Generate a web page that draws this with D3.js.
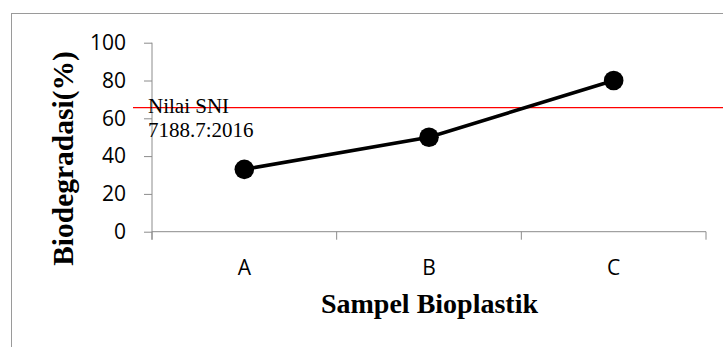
<!DOCTYPE html>
<html>
<head>
<meta charset="utf-8">
<script src="https://cdn.jsdelivr.net/npm/d3@7"></script>
<style>
  html, body { margin: 0; padding: 0; background: #fff; }
  svg { display: block; }
</style>
</head>
<body>
<svg id="chart" width="723" height="347"></svg>
<script>
const categories = ["A", "B", "C"];
const values = [33, 50, 80];
const yTicks = [0, 20, 40, 60, 80, 100];
const sniValue = 65.6;
const sniLabel = ["Nilai SNI", "7188.7:2016"];
const xTitle = "Sampel Bioplastik";
const yTitle = "Biodegradasi(%)";

const svg = d3.select("#chart");
const pLeft = 152, pRight = 706, pTop = 42.7, pBottom = 231.7;

// outer chart border
svg.append("rect")
  .attr("x", 11.5).attr("y", 13.5)
  .attr("width", 760).attr("height", 400)
  .attr("fill", "none").attr("stroke", "#9a9a9a").attr("stroke-width", 1);

const x = d3.scaleBand().domain(categories).range([pLeft, pRight]).padding(0);
const y = d3.scaleLinear().domain([0, 100]).range([pBottom, pTop]);

// Y axis
const yAxis = svg.append("g")
  .attr("transform", `translate(${pLeft},0)`)
  .call(d3.axisLeft(y).tickValues(yTicks).tickSize(8).tickPadding(18));
yAxis.select(".domain").attr("stroke", "#8c8c8c").attr("d", `M-0,${pTop}V${pBottom + 8}`);
yAxis.selectAll(".tick line").attr("stroke", "#8c8c8c");
yAxis.selectAll(".tick text")
  .attr("fill", "#000")
  .style("font-family", "'Open Sans', sans-serif")
  .style("font-size", "21px");

// X axis with ticks at band boundaries
const xAxis = svg.append("g")
  .attr("transform", `translate(0,${pBottom})`);
xAxis.append("path")
  .attr("d", `M${pLeft},0H${pRight}`)
  .attr("stroke", "#8c8c8c").attr("fill", "none");
const bounds = categories.map(c => x(c)).concat([x(categories[categories.length - 1]) + x.bandwidth()]);
xAxis.selectAll("line.bt").data(bounds).enter().append("line")
  .attr("class", "bt")
  .attr("x1", d => d).attr("x2", d => d)
  .attr("y1", 0).attr("y2", 8)
  .attr("stroke", "#8c8c8c");
xAxis.selectAll("text.cat").data(categories).enter().append("text")
  .attr("class", "cat")
  .attr("x", d => x(d) + x.bandwidth() / 2)
  .attr("y", 43.5)
  .attr("text-anchor", "middle")
  .attr("fill", "#000")
  .style("font-family", "'Open Sans', sans-serif")
  .style("font-size", "21px")
  .text(d => d);

// SNI reference line
svg.append("line")
  .attr("x1", 133).attr("x2", 723)
  .attr("y1", y(sniValue)).attr("y2", y(sniValue))
  .attr("stroke", "#ff0000").attr("stroke-width", 1.3);

svg.append("text")
  .attr("x", 148).attr("y", y(sniValue) + 5)
  .style("font-family", "'Liberation Serif', 'Times New Roman', serif")
  .style("font-size", "21px")
  .attr("fill", "#000")
  .selectAll("tspan").data(sniLabel).enter().append("tspan")
  .attr("x", 148)
  .attr("dy", (d, i) => i === 0 ? 0 : 24.3)
  .text(d => d);

// data line
const pts = categories.map((c, i) => ({ c, v: values[i] }));
const line = d3.line().x(d => x(d.c) + x.bandwidth() / 2).y(d => y(d.v));
svg.append("path")
  .datum(pts)
  .attr("d", line)
  .attr("fill", "none")
  .attr("stroke", "#000")
  .attr("stroke-width", 3.5);
svg.selectAll("circle.pt").data(pts).enter().append("circle")
  .attr("class", "pt")
  .attr("cx", d => x(d.c) + x.bandwidth() / 2)
  .attr("cy", d => y(d.v))
  .attr("r", 9.8)
  .attr("fill", "#000");

// axis titles
svg.append("text")
  .attr("x", (pLeft + pRight) / 2 + 0.5)
  .attr("y", 312.7)
  .attr("text-anchor", "middle")
  .style("font-family", "'Liberation Serif', 'Times New Roman', serif")
  .style("font-size", "28px")
  .style("font-weight", "bold")
  .attr("fill", "#000")
  .text(xTitle);

svg.append("text")
  .attr("transform", "translate(73,158.5) rotate(-90)")
  .attr("text-anchor", "middle")
  .style("font-family", "'Liberation Serif', 'Times New Roman', serif")
  .style("font-size", "29.5px")
  .style("font-weight", "bold")
  .attr("fill", "#000")
  .text(yTitle);
</script>
</body>
</html>
